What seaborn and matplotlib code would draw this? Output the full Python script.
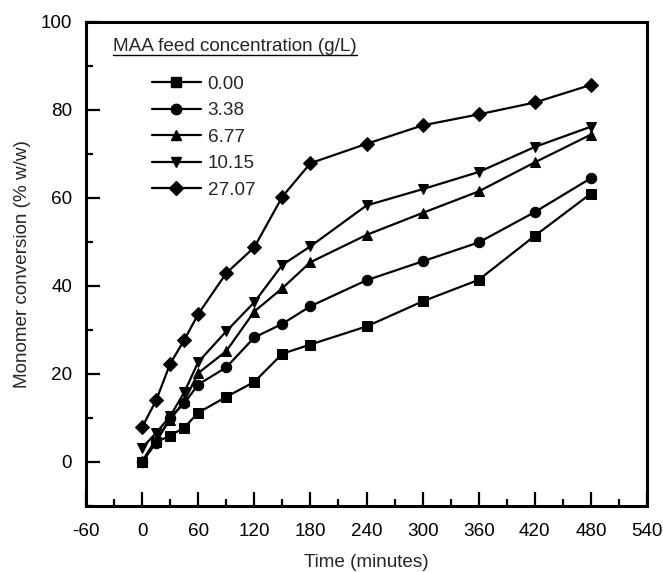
import matplotlib
matplotlib.use("Agg")
import matplotlib.pyplot as plt
import pandas as pd
import seaborn as sns
from matplotlib.ticker import MultipleLocator
from matplotlib.lines import Line2D

# Sampling times (minutes)
time_min = [0, 15, 30, 45, 60, 90, 120, 150, 180, 240, 300, 360, 420, 480]

# MAA feed concentrations (g/L) and monomer conversion (% w/w) for each
conc_labels = ["0.00", "3.38", "6.77", "10.15", "27.07"]
conv_000 = [0.0, 4.5, 6.0, 7.8, 11.2, 14.8, 18.2, 24.6, 26.7, 30.8, 36.5, 41.4, 51.4, 61.0]
conv_338 = [0.0, 4.4, 10.1, 13.3, 17.6, 21.5, 28.3, 31.4, 35.4, 41.3, 45.6, 49.9, 56.8, 64.5]
conv_677 = [0.2, 5.1, 9.6, 13.8, 20.2, 25.2, 34.2, 39.5, 45.4, 51.6, 56.6, 61.5, 68.1, 74.4]
conv_1015 = [3.2, 6.6, 10.4, 15.8, 22.7, 29.7, 36.3, 44.8, 49.0, 58.3, 62.0, 65.9, 71.6, 76.2]
conv_2707 = [7.9, 14.0, 22.3, 27.7, 33.6, 42.9, 48.8, 60.3, 67.9, 72.3, 76.5, 79.0, 81.7, 85.7]
marker_shapes = ["s", "o", "^", "v", "D"]

series = [conv_000, conv_338, conv_677, conv_1015, conv_2707]
frames = []
for lab, vals in zip(conc_labels, series):
    frames.append(pd.DataFrame({"Time": time_min, "Conversion": vals, "MAA": lab}))
df = pd.concat(frames, ignore_index=True)

FS = 13.6

sns.set_style("ticks")
plt.rcParams["font.family"] = ["Liberation Sans", "DejaVu Sans"]
plt.rcParams["font.size"] = FS
plt.rcParams["axes.unicode_minus"] = False

fig = plt.figure(figsize=(6.63, 5.72), dpi=100)
ax = fig.add_axes([0.1297, 0.1154, 0.8462, 0.8462])

sns.lineplot(
    data=df, x="Time", y="Conversion", hue="MAA", style="MAA",
    hue_order=conc_labels, style_order=conc_labels,
    palette=["black"] * 5, markers=marker_shapes, dashes=False,
    markersize=7.5, markeredgecolor="black", linewidth=1.6,
    ax=ax, legend=False,
)

ax.set_xlim(-60, 540)
ax.set_ylim(-10, 100)
ax.xaxis.set_major_locator(MultipleLocator(60))
ax.xaxis.set_minor_locator(MultipleLocator(30))
ax.yaxis.set_major_locator(MultipleLocator(20))
ax.yaxis.set_minor_locator(MultipleLocator(10))
ax.tick_params(which="both", direction="in", width=1.6, color="black",
               labelsize=FS, labelcolor="black")
ax.tick_params(which="major", length=10)
ax.tick_params(which="minor", length=5)
ax.tick_params(axis="x", which="major", pad=12)
ax.tick_params(axis="y", which="major", pad=10)
ax.tick_params(axis="y", which="both", right=False)
ax.tick_params(axis="x", which="both", top=False)
for s in ax.spines.values():
    s.set_visible(True)
    s.set_linewidth(2.2)
    s.set_color("black")

ax.set_xlabel("Time (minutes)", fontsize=FS, labelpad=10)
ax.set_ylabel("Monomer conversion (% w/w)", fontsize=FS, labelpad=7)

# Legend entries
handles = [
    Line2D([], [], color="black", linewidth=1.6, marker=m, markersize=7.5)
    for m in marker_shapes
]
ax.legend(handles, conc_labels, loc="upper left", bbox_to_anchor=(0.118, 0.889),
          frameon=False, handlelength=2.56, handletextpad=0.37, labelspacing=0.49,
          borderpad=0, borderaxespad=0, fontsize=FS)

# Underlined legend heading
title = ax.text(0.048, 0.95, "MAA feed concentration (g/L)", transform=ax.transAxes,
                ha="left", va="center", fontsize=FS)
fig.canvas.draw()
bb = title.get_window_extent().transformed(ax.transAxes.inverted())
ax.plot([bb.x0, bb.x1], [bb.y0 - 0.001, bb.y0 - 0.001], transform=ax.transAxes,
        color="black", linewidth=1.0, clip_on=False)

fig.savefig("out.png", dpi=100)
